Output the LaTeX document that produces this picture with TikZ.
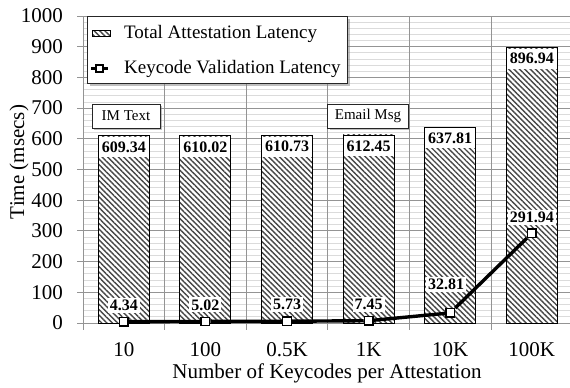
\documentclass[tikz,border=0pt]{standalone}
\usepackage{fontspec}
\setmainfont{Liberation Serif}
\usetikzlibrary{patterns.meta, shadows, positioning}

\newcommand{\axfont}{\fontsize{21}{24}\selectfont}
\newcommand{\legfont}{\fontsize{19}{22}\selectfont}
\newcommand{\valfont}{\fontsize{16}{18}\selectfont\bfseries}

\begin{document}
\begin{tikzpicture}[x=1pt, y=1pt,
	minorgrid/.style={draw=black!14, line width=0.9pt},
	majorgrid/.style={draw=black!42, line width=0.9pt},
	bar/.style={draw=black, line width=0.9pt, preaction={fill=white}, pattern={Lines[angle=-45,distance=3.8pt,line width=1.4pt]}, pattern color=black!72},
	barval/.style={fill=white, font=\valfont, inner xsep=3pt, inner ysep=4.5pt, anchor=north, yshift=-1pt},
	ptval/.style={fill=white, font=\valfont, inner sep=2pt},
	vmark/.style={draw=black, fill=white, line width=1.4pt, minimum size=8.5pt, inner sep=0pt},
	keyline/.style={line width=3.4pt, black},
	tagbox/.style={draw=black!85, fill=white, line width=0.8pt, font=\fontsize{15}{17}\selectfont, minimum height=24pt, inner xsep=7pt, drop shadow={shadow xshift=2pt, shadow yshift=-2pt, fill=black!50}},
]

	\useasboundingbox (-83,-65) rectangle (487,323);

	\begin{scope}[x=81.6pt, y=0.307pt]
	% grid
	\foreach \v in {20,40,...,980} \draw[minorgrid] (0,\v) -- (5.97,\v);
	\foreach \v in {100,200,...,1000} \draw[majorgrid] (0,\v) -- (5.97,\v);
	\foreach \c in {1,...,5} \draw[majorgrid] (\c,0) -- (\c,1000);
	\draw[majorgrid] (0,0) -- (0,1000);
	\draw[majorgrid] (0,0) -- (5.97,0);
	\foreach \c in {0,...,5} \draw[majorgrid] (\c,0) -- ++(0pt,-7pt);
	\foreach \v in {0,100,...,1000} {
		\draw[majorgrid] (0,\v) -- ++(-6pt,0pt);
		\node[anchor=east, font=\axfont, inner sep=0pt] at ([xshift=-20pt]0,\v) {\v};
	}

	% bars
	\draw[bar] (0.1875,0) rectangle (0.8125,609.34);
	\draw[bar] (1.1875,0) rectangle (1.8125,610.02);
	\draw[bar] (2.1875,0) rectangle (2.8125,610.73);
	\draw[bar] (3.1875,0) rectangle (3.8125,612.45);
	\draw[bar] (4.1875,0) rectangle (4.8125,637.81);
	\draw[bar] (5.1875,0) rectangle (5.8125,896.94);

	\node[barval](b1) at (0.5,609.34) {609.34};
	\node[barval](b2) at (1.5,610.02) {610.02};
	\node[barval](b3) at (2.5,610.73) {610.73};
	\node[barval](b4) at (3.5,612.45) {612.45};
	\node[barval](b5) at (4.5,637.81) {637.81};
	\node[barval](b6) at (5.5,896.94) {896.94};

	% keycode line
	\node[vmark](m1) at (0.5,4.34) {};
	\node[vmark](m2) at (1.5,5.02) {};
	\node[vmark](m3) at (2.5,5.73) {};
	\node[vmark](m4) at (3.5,7.45) {};
	\node[vmark](m5) at (4.5,32.81) {};
	\node[vmark](m6) at (5.5,291.94) {};
	\draw[keyline] (m1) -- (m2) -- (m3) -- (m4) -- (m5) -- (m6);

	\node[ptval, above=4pt of m1](k1) {4.34};
	\node[ptval, above=4pt of m2](k2) {5.02};
	\node[ptval, above=4pt of m3](k3) {5.73};
	\node[ptval, above=4pt of m4](k4) {7.45};
	\node[ptval, above=16pt of m5, xshift=-4pt](k5) {32.81};
	\node[ptval, above=3pt of m6](k6) {291.94};
	\end{scope}

	% axes text
	\node[font=\axfont](t1) at (40.8,-27) {10};
	\node[font=\axfont](t2) at (122.4,-27) {100};
	\node[font=\axfont](t3) at (204,-27) {0.5K};
	\node[font=\axfont](t4) at (285.6,-27) {1K};
	\node[font=\axfont](t5) at (367.2,-27) {10K};
	\node[font=\axfont](t6) at (448.8,-27) {100K};
	\node[font=\axfont](xtitle) at (244,-50) {Number of Keycodes per Attestation};
	\node[font=\axfont, rotate=90](ytitle) at (-64,161) {Time (msecs)};

	% legend
	\node[draw=black!85, fill=white, line width=0.8pt, minimum width=260pt, minimum height=67pt, anchor=north west, drop shadow={shadow xshift=2.5pt, shadow yshift=-2.5pt, fill=black!50}](leg) at (4,306.5) {};
	\draw[bar, line width=0.7pt] (9,286.3) rectangle (27,292.3);
	\node[anchor=west, font=\legfont, inner sep=0pt](legA) at (41,289) {Total Attestation Latency};
	\coordinate (ka) at (8,254.5);
	\coordinate (kb) at (25,254.5);
	\draw[keyline] (ka) -- (kb);
	\node[vmark, minimum size=7pt](lm) at (16.5,254.5) {};
	\node[anchor=west, font=\legfont, inner sep=0pt](legB) at (41,254.5) {Keycode Validation Latency};

	\node[tagbox, minimum width=68pt](im) at (43,207) {IM Text};
	\node[tagbox, minimum width=80pt](em) at (285,207) {Email Msg};
\end{tikzpicture}
\end{document}
